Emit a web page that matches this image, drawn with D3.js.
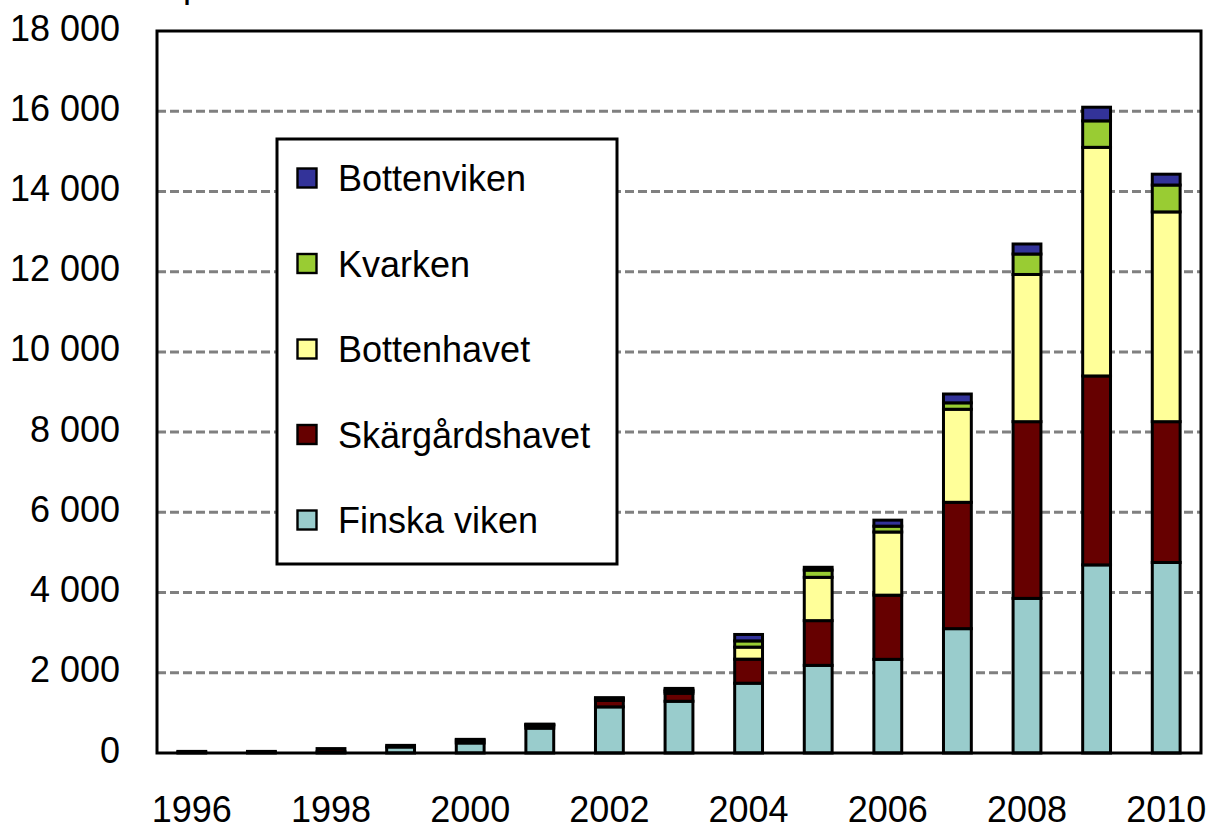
<!DOCTYPE html>
<html lang="sv">

<head>
    <meta charset="UTF-8">
    <title>Stacked bars</title>
    <script src="https://d3js.org/d3.v7.min.js"></script>
</head>

<style>
    body {
        margin: 0;
        background: #fff;
    }

    text {
        font-family: "Liberation Sans", Arial, sans-serif;
        fill: #000;
    }
</style>

<body>
    <svg id="chart"></svg>
</body>

<script>
    // Data
    var years = [1996, 1997, 1998, 1999, 2000, 2001, 2002, 2003, 2004, 2005, 2006, 2007, 2008, 2009, 2010];
    var finskaViken = [20, 20, 30, 150, 250, 620, 1150, 1290, 1740, 2185, 2335, 3100, 3855, 4690, 4750];
    var skargardshavet = [20, 20, 80, 40, 70, 60, 160, 200, 600, 1115, 1600, 3150, 4405, 4710, 3510];
    var bottenhavet = [0, 0, 0, 0, 20, 20, 30, 50, 300, 1080, 1575, 2320, 3670, 5700, 5230];
    var kvarken = [0, 0, 0, 0, 0, 10, 20, 30, 155, 180, 145, 160, 510, 660, 670];
    var bottenviken = [0, 0, 0, 0, 0, 10, 20, 40, 160, 70, 150, 220, 250, 340, 270];

    var seriesNames = ["Finska viken", "Skärgårdshavet", "Bottenhavet", "Kvarken", "Bottenviken"];
    var seriesValues = [finskaViken, skargardshavet, bottenhavet, kvarken, bottenviken];
    var seriesColors = ["#99cccc", "#660000", "#ffff99", "#99cc33", "#333399"];

    var yTicks = [0, 2000, 4000, 6000, 8000, 10000, 12000, 14000, 16000, 18000];
    var xTicks = [1996, 1998, 2000, 2002, 2004, 2006, 2008, 2010];

    // Constants
    var W = 1211, H = 826;
    var margin = { top: 31, right: 10, bottom: 73, left: 157 },
        width = W - margin.left - margin.right,
        height = H - margin.top - margin.bottom;

    var svg = d3.select("#chart")
        .attr("width", W)
        .attr("height", H);

    var chart = svg.append("g")
        .attr("transform", "translate(" + margin.left + "," + margin.top + ")");

    // Scales
    var x = d3.scaleBand()
        .domain(years)
        .range([0, width])
        .paddingInner(0.6)
        .paddingOuter(0.3);

    var y = d3.scaleLinear()
        .domain([0, 18000])
        .range([height, 0]);

    // Gridlines
    chart.append("g")
        .selectAll("line")
        .data(yTicks.filter(d => d > 0 && d < 18000))
        .enter()
        .append("line")
        .attr("x1", 0)
        .attr("x2", width)
        .attr("y1", d => y(d))
        .attr("y2", d => y(d))
        .attr("stroke", "#808080")
        .attr("stroke-width", 3)
        .attr("stroke-dasharray", "9,4");

    // Stacked bars
    var table = years.map((yr, i) => {
        var row = { year: yr };
        seriesNames.forEach((name, s) => row[name] = seriesValues[s][i]);
        return row;
    });
    var stacked = d3.stack().keys(seriesNames)(table);

    stacked.forEach((layer, s) => {
        chart.append("g")
            .selectAll("rect")
            .data(layer.filter(d => d[1] - d[0] > 0))
            .enter()
            .append("rect")
            .attr("x", d => x(d.data.year))
            .attr("y", d => y(d[1]))
            .attr("width", x.bandwidth())
            .attr("height", d => y(d[0]) - y(d[1]))
            .attr("fill", seriesColors[s])
            .attr("stroke", "#000")
            .attr("stroke-width", 3);
    });

    // Frame
    chart.append("rect")
        .attr("x", 0)
        .attr("y", 0)
        .attr("width", width)
        .attr("height", height)
        .attr("fill", "none")
        .attr("stroke", "#000")
        .attr("stroke-width", 3);

    // Axes
    var yAxis = chart.append("g")
        .call(d3.axisLeft(y)
            .tickValues(yTicks)
            .tickSize(0)
            .tickPadding(37)
            .tickFormat(d => d3.format(",")(d).replace(/,/g, " ")));
    yAxis.select(".domain").remove();
    yAxis.selectAll("text")
        .attr("font-size", 36)
        .attr("font-family", "Liberation Sans, Arial, sans-serif")
        .attr("dy", 9)
        .attr("text-anchor", "end");

    var xAxis = chart.append("g")
        .attr("transform", "translate(0," + height + ")")
        .call(d3.axisBottom(x)
            .tickValues(xTicks)
            .tickSize(0)
            .tickPadding(0));
    xAxis.select(".domain").remove();
    xAxis.selectAll("text")
        .attr("font-size", 36)
        .attr("font-family", "Liberation Sans, Arial, sans-serif")
        .attr("y", 69)
        .attr("dy", 0);

    // Clipped title remnant at the very top
    svg.append("text")
        .attr("x", 183)
        .attr("y", -3.5)
        .attr("font-size", 36)
        .text("p");

    // Legend
    var legend = svg.append("g");
    legend.append("rect")
        .attr("x", 277)
        .attr("y", 139)
        .attr("width", 340)
        .attr("height", 425)
        .attr("fill", "#fff")
        .attr("stroke", "#000")
        .attr("stroke-width", 3);

    var legendOrder = d3.range(seriesNames.length).reverse();
    var items = legend.selectAll("g.item")
        .data(legendOrder)
        .enter()
        .append("g")
        .attr("class", "item")
        .attr("transform", (s, i) => "translate(0," + (178 + i * 85.5) + ")");

    items.append("rect")
        .attr("x", 297.5)
        .attr("y", -9.5)
        .attr("width", 19)
        .attr("height", 19)
        .attr("fill", s => seriesColors[s])
        .attr("stroke", "#000")
        .attr("stroke-width", 2.4);

    items.append("text")
        .attr("x", 338)
        .attr("y", 13)
        .attr("font-size", 36)
        .text(s => seriesNames[s]);
</script>

</html>
